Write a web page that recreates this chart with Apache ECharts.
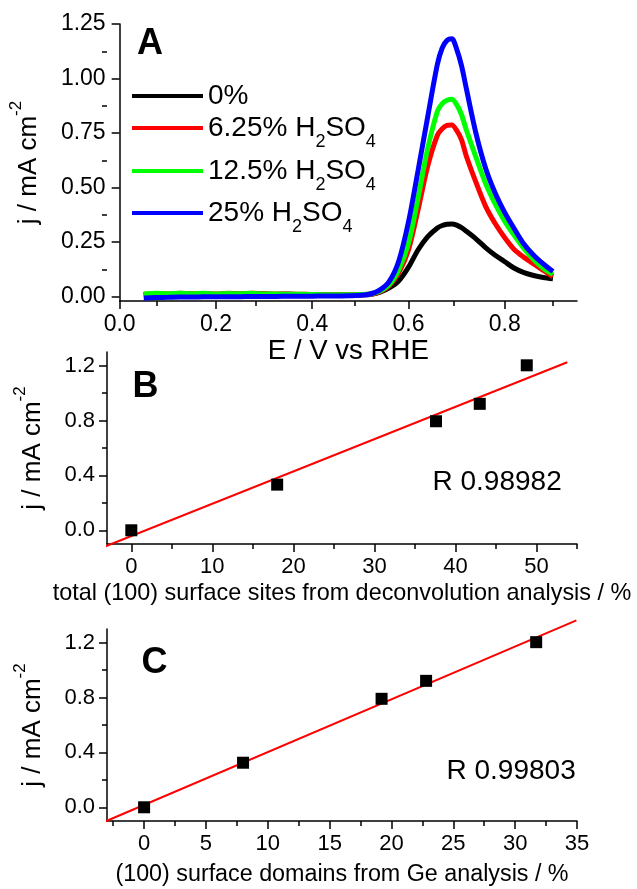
<!DOCTYPE html>
<html><head><meta charset="utf-8">
<script src="https://cdn.jsdelivr.net/npm/echarts@6/dist/echarts.min.js"></script>
<style>html,body{margin:0;padding:0;background:#fff}#c{width:637px;height:889px}</style>
</head><body><div id="c"></div>
<script>
// ---------- Panel A data (E / V vs RHE, j / mA cm-2) ----------
const potentialE = [0.05,0.075,0.10,0.125,0.15,0.175,0.20,0.225,0.25,0.275,0.30,0.325,0.35,0.375,0.40,0.425,0.45,0.475,0.50,
  0.52,0.54,0.56,0.58,0.60,0.62,0.64,0.66,0.67,0.68,0.69,0.70,0.71,0.72,0.74,0.76,0.78,0.80,0.82,0.84,0.86,0.88,0.90];
const j0pct = [0.008,0.012,0.010,0.013,0.011,0.012,0.010,0.012,0.011,0.013,0.012,0.010,0.011,0.009,0.008,0.008,0.007,0.007,0.008,
  0.010,0.020,0.040,0.073,0.135,0.215,0.275,0.315,0.326,0.332,0.333,0.328,0.316,0.300,0.265,0.225,0.190,0.160,0.130,0.110,0.097,0.088,0.082];
const j625pct = [0.010,0.014,0.012,0.015,0.013,0.014,0.012,0.015,0.013,0.016,0.013,0.012,0.012,0.011,0.010,0.009,0.009,0.009,0.009,
  0.011,0.022,0.050,0.110,0.215,0.400,0.600,0.740,0.770,0.785,0.787,0.762,0.720,0.645,0.525,0.415,0.335,0.270,0.215,0.180,0.150,0.120,0.092];
const j125pct = [0.012,0.015,0.013,0.016,0.013,0.015,0.012,0.014,0.013,0.015,0.012,0.012,0.011,0.011,0.010,0.009,0.009,0.009,0.010,
  0.012,0.025,0.055,0.125,0.245,0.455,0.680,0.850,0.885,0.900,0.905,0.880,0.835,0.765,0.640,0.520,0.425,0.345,0.280,0.220,0.170,0.130,0.102];
const j25pct = [-0.006,-0.004,-0.003,-0.002,-0.002,-0.001,-0.001,0.000,0.000,0.001,0.001,0.001,0.002,0.002,0.002,0.003,0.003,0.004,0.006,
  0.012,0.030,0.070,0.165,0.343,0.580,0.826,1.065,1.140,1.175,1.182,1.135,1.060,0.955,0.750,0.590,0.475,0.385,0.310,0.240,0.190,0.150,0.115];
const seriesNames = ['0%','6.25% H2SO4','12.5% H2SO4','25% H2SO4'];
const legendRich = ['0%','6.25% H{sub|2}SO{sub|4}','12.5% H{sub|2}SO{sub|4}','25% H{sub|2}SO{sub|4}'];

// ---------- Panel B data ----------
const bSites = [0, 18.0, 37.6, 43.0, 48.8];
const bCurrent = [0.0, 0.333, 0.795, 0.922, 1.203];
const bFitX = [-5.0, 53.8];
const bFitY = [-0.160, 1.225];

// ---------- Panel C data ----------
const cDomains = [0, 8.0, 19.2, 22.8, 31.7];
const cCurrent = [0.0, 0.325, 0.791, 0.922, 1.204];
const cFitX = [-3.1, 34.95];
const cFitY = [-0.102, 1.363];

// ---------- tick values ----------
const aXMajor = [0, 0.2, 0.4, 0.6, 0.8];
const aXMinor = [0.1, 0.3, 0.5, 0.7, 0.9];
const aYMajor = [0, 0.25, 0.5, 0.75, 1.0, 1.25];
const aYMinor = [0.125, 0.375, 0.625, 0.875, 1.125];
const bXMajor = [0, 10, 20, 30, 40, 50];
const bXMinor = [5, 15, 25, 35, 45, 55];
const cXMajor = [0, 5, 10, 15, 20, 25, 30, 35];
const cXMinor = [-2.5, 2.5, 7.5, 12.5, 17.5, 22.5, 27.5, 32.5];
const jMajor = [0, 0.4, 0.8, 1.2];
const jMinor = [0.2, 0.6, 1.0];

const FONT = "'Liberation Sans', Arial, Helvetica, sans-serif";
const colors = ['#000000', '#ff0000', '#00ff00', '#0000ff'];

const gridA = {left: 107, top: 24, width: 470, height: 277};
const gridB = {left: 107, top: 352, width: 470, height: 192};
const gridC = {left: 107, top: 629, width: 470, height: 192};

function mainAxis(kind, gi, min, max, ticks, fmt, fs, margin, name, nameOpt) {
  const ax = {
    type: 'value', gridIndex: gi, min: min, max: max,
    splitLine: {show: false},
    axisLine: {show: true, onZero: false, lineStyle: {color: '#000', width: 1.5}},
    axisTick: {show: true, inside: false, length: 8, customValues: ticks, lineStyle: {color: '#000', width: 1.5}},
    axisLabel: {show: true, customValues: ticks, formatter: fmt, fontSize: fs, fontFamily: FONT, color: '#000', margin: margin},
    name: name, nameLocation: 'middle'
  };
  Object.assign(ax, nameOpt || {});
  return ax;
}
function minorAxis(gi, min, max, ticks) {
  return {
    type: 'value', gridIndex: gi, min: min, max: max,
    splitLine: {show: false},
    axisLine: {show: false, onZero: false},
    axisTick: {show: true, inside: false, length: 5, customValues: ticks, lineStyle: {color: '#000', width: 1.5}},
    axisLabel: {show: false}
  };
}

const yName = {
  nameRotate: 90,
  nameTextStyle: {fontSize: 26, fontFamily: FONT, color: '#000', lineHeight: 42,
    rich: {sup: {fontSize: 17, lineHeight: 17, fontFamily: FONT, color: '#000', verticalAlign: 'top'}}}
};

const xAxes = [
  mainAxis('x', 0, 0, 0.95, aXMajor, v => v.toFixed(1), 23, 12, 'E / V vs RHE',
    {nameGap: 32, nameTextStyle: {fontSize: 27.6, fontFamily: FONT, color: '#000'}}),
  minorAxis(1, 0, 0.95, aXMinor),
  mainAxis('x', 2, -3, 55, bXMajor, v => String(v), 22, 12, 'total (100) surface sites from deconvolution analysis / %',
    {nameGap: 38, nameTextStyle: {fontSize: 23.4, fontFamily: FONT, color: '#000'}}),
  minorAxis(3, -3, 55, bXMinor),
  mainAxis('x', 4, -3, 35, cXMajor, v => String(v), 22, 12, '(100) surface domains from Ge analysis / %',
    {nameGap: 42, nameTextStyle: {fontSize: 23.3, fontFamily: FONT, color: '#000'}}),
  minorAxis(5, -3, 35, cXMinor)
];
const yAxes = [
  mainAxis('y', 0, -0.02, 1.25, aYMajor, v => v.toFixed(2), 23, 14, 'j / mA cm{sup|-2}', Object.assign({nameGap: 54}, yName)),
  minorAxis(1, -0.02, 1.25, aYMinor),
  mainAxis('y', 2, -0.1, 1.3, jMajor, v => v.toFixed(1), 22, 12, 'j / mA cm{sup|-2}', Object.assign({nameGap: 47}, yName)),
  minorAxis(3, -0.1, 1.3, jMinor),
  mainAxis('y', 4, -0.1, 1.3, jMajor, v => v.toFixed(1), 22, 12, 'j / mA cm{sup|-2}', Object.assign({nameGap: 47}, yName)),
  minorAxis(5, -0.1, 1.3, jMinor)
];

const curves = [j0pct, j625pct, j125pct, j25pct];
const series = curves.map((arr, i) => ({
  name: seriesNames[i], type: 'line', xAxisIndex: 0, yAxisIndex: 0,
  data: potentialE.map((e, k) => [e, arr[k]]),
  showSymbol: false, symbol: 'none', smooth: 0.3,
  lineStyle: {color: colors[i], width: 5}, itemStyle: {color: colors[i]},
  z: 2 + i
}));
series.push({
  type: 'line', xAxisIndex: 2, yAxisIndex: 2, clip: false, symbol: 'none',
  data: bFitX.map((x, k) => [x, bFitY[k]]), lineStyle: {color: '#ff0000', width: 2}, z: 2
});
series.push({
  type: 'scatter', xAxisIndex: 2, yAxisIndex: 2, symbol: 'rect', symbolSize: 12,
  data: bSites.map((x, k) => [x, bCurrent[k]]), itemStyle: {color: '#000', opacity: 1}, z: 3
});
series.push({
  type: 'line', xAxisIndex: 4, yAxisIndex: 4, clip: false, symbol: 'none',
  data: cFitX.map((x, k) => [x, cFitY[k]]), lineStyle: {color: '#ff0000', width: 2}, z: 2
});
series.push({
  type: 'scatter', xAxisIndex: 4, yAxisIndex: 4, symbol: 'rect', symbolSize: 12,
  data: cDomains.map((x, k) => [x, cCurrent[k]]), itemStyle: {color: '#000', opacity: 1}, z: 3
});

const legendCenters = [96, 128, 171, 213];
const legends = seriesNames.map((n, i) => ({
  data: [n], left: 132, top: legendCenters[i] - 23, orient: 'vertical', padding: 0,
  icon: 'rect', itemWidth: 71, itemHeight: 4, selectedMode: false,
  formatter: () => legendRich[i],
  textStyle: {fontSize: 28, fontFamily: FONT, color: '#000', lineHeight: 46,
    rich: {sub: {fontSize: 18, lineHeight: 18, fontFamily: FONT, color: '#000', verticalAlign: 'bottom'}}}
}));

function label(txt, x, y, size, bold) {
  return {type: 'text', x: x, y: y, z: 10,
    style: {text: txt, fontSize: size, fontWeight: bold ? 'bold' : 'normal', fontFamily: FONT, fill: '#000', align: 'left', verticalAlign: 'middle'}};
}

const chart = echarts.init(document.getElementById('c'), null, {renderer: 'canvas'});
chart.setOption({
  animation: false,
  backgroundColor: '#fff',
  grid: [gridA, gridA, gridB, gridB, gridC, gridC].map(g => Object.assign({containLabel: false}, g)),
  xAxis: xAxes,
  yAxis: yAxes,
  legend: legends,
  series: series,
  graphic: [
    label('A', 137, 44, 36, true),
    label('B', 132.5, 387, 36, true),
    label('C', 141.5, 663, 36, true),
    label('R 0.98982', 432.5, 482, 28, false),
    label('R 0.99803', 446.5, 771, 28, false)
  ]
});
</script></body></html>
